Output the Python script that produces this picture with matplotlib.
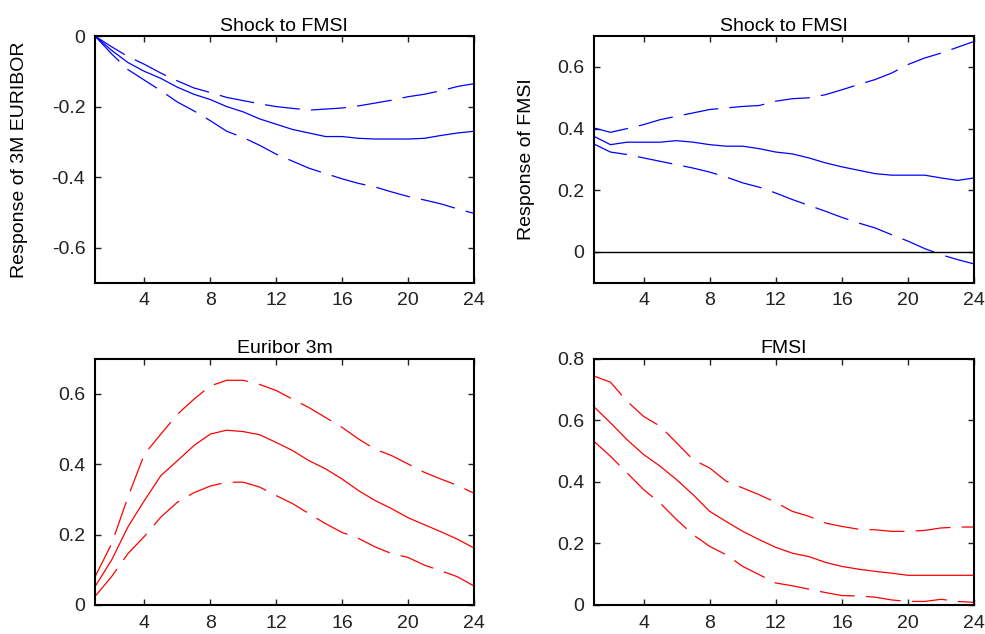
import matplotlib
matplotlib.use("Agg")
import matplotlib.pyplot as plt

plt.rcParams['font.family'] = ['Liberation Sans', 'DejaVu Sans']

h = list(range(1, 25))

# response of 3M EURIBOR to FMSI shock
eur_mid = [0, -0.04, -0.075, -0.10, -0.12, -0.145, -0.165, -0.18, -0.20, -0.215, -0.235, -0.25,
           -0.265, -0.275, -0.285, -0.285, -0.29, -0.292, -0.292, -0.292, -0.29, -0.282, -0.275, -0.27]
eur_up = [0, -0.03, -0.058, -0.08, -0.105, -0.127, -0.147, -0.16, -0.174, -0.183, -0.192, -0.20,
          -0.205, -0.21, -0.207, -0.204, -0.198, -0.19, -0.182, -0.172, -0.165, -0.155, -0.143, -0.135]
eur_lo = [0, -0.05, -0.095, -0.125, -0.155, -0.187, -0.212, -0.24, -0.27, -0.288, -0.31, -0.335,
          -0.355, -0.375, -0.39, -0.405, -0.418, -0.428, -0.442, -0.455, -0.465, -0.476, -0.49, -0.503]

# response of FMSI to FMSI shock
fmsi_mid = [0.375, 0.348, 0.356, 0.356, 0.356, 0.361, 0.356, 0.348, 0.343, 0.343, 0.335, 0.324,
            0.318, 0.305, 0.289, 0.276, 0.265, 0.254, 0.249, 0.249, 0.249, 0.24, 0.232, 0.24]
fmsi_up = [0.402, 0.388, 0.40, 0.413, 0.429, 0.44, 0.451, 0.462, 0.467, 0.472, 0.475, 0.489,
           0.497, 0.50, 0.51, 0.526, 0.543, 0.559, 0.58, 0.608, 0.629, 0.645, 0.664, 0.683]
fmsi_lo = [0.35, 0.324, 0.316, 0.305, 0.294, 0.283, 0.272, 0.259, 0.243, 0.224, 0.21, 0.191,
           0.17, 0.151, 0.132, 0.112, 0.094, 0.078, 0.056, 0.035, 0.011, -0.009, -0.025, -0.039]

# Euribor 3m own response
e3_mid = [0.052, 0.127, 0.222, 0.297, 0.368, 0.41, 0.453, 0.486, 0.497, 0.493, 0.484, 0.462,
          0.439, 0.41, 0.387, 0.358, 0.325, 0.297, 0.274, 0.248, 0.228, 0.208, 0.187, 0.162]
e3_up = [0.08, 0.173, 0.307, 0.429, 0.486, 0.542, 0.585, 0.623, 0.639, 0.639, 0.627, 0.61,
         0.585, 0.561, 0.533, 0.505, 0.472, 0.443, 0.425, 0.401, 0.377, 0.358, 0.34, 0.318]
e3_lo = [0.024, 0.08, 0.146, 0.195, 0.25, 0.292, 0.319, 0.338, 0.349, 0.349, 0.335, 0.311,
         0.288, 0.259, 0.231, 0.206, 0.189, 0.165, 0.146, 0.135, 0.113, 0.097, 0.08, 0.054]

# FMSI own response
f_mid = [0.644, 0.592, 0.537, 0.489, 0.451, 0.407, 0.358, 0.304, 0.271, 0.239, 0.212, 0.187,
         0.168, 0.157, 0.138, 0.125, 0.116, 0.109, 0.103, 0.096, 0.096, 0.096, 0.096, 0.096]
f_up = [0.744, 0.724, 0.662, 0.613, 0.581, 0.527, 0.472, 0.445, 0.402, 0.38, 0.358, 0.333,
        0.304, 0.288, 0.266, 0.255, 0.246, 0.244, 0.239, 0.239, 0.242, 0.25, 0.253, 0.253]
f_lo = [0.532, 0.483, 0.429, 0.375, 0.331, 0.277, 0.228, 0.19, 0.163, 0.125, 0.098, 0.071,
        0.062, 0.051, 0.04, 0.03, 0.029, 0.025, 0.016, 0.011, 0.011, 0.018, 0.011, 0.008]

xticks = [4, 8, 12, 16, 20, 24]

fig = plt.figure(figsize=(9.85, 6.34), dpi=100)

panels = [
    # rect, mid, up, lo, color, ylim, yticks, yticklabels, title, ylabel, ylabel x
    ([0.0965, 0.554, 0.3845, 0.389], eur_mid, eur_up, eur_lo, 'blue', (-0.7, 0),
     [0, -0.2, -0.4, -0.6], ['0', '-0.2', '-0.4', '-0.6'], 'Shock to FMSI',
     'Response of 3M EURIBOR', -0.177),
    ([0.603, 0.554, 0.386, 0.389], fmsi_mid, fmsi_up, fmsi_lo, 'blue', (-0.1, 0.7),
     [0, 0.2, 0.4, 0.6], ['0', '0.2', '0.4', '0.6'], 'Shock to FMSI',
     'Response of FMSI', -0.155),
    ([0.0965, 0.046, 0.3845, 0.388], e3_mid, e3_up, e3_lo, 'red', (0, 0.7),
     [0, 0.2, 0.4, 0.6], ['0', '0.2', '0.4', '0.6'], 'Euribor 3m', None, None),
    ([0.603, 0.046, 0.386, 0.388], f_mid, f_up, f_lo, 'red', (0, 0.8),
     [0, 0.2, 0.4, 0.6, 0.8], ['0', '0.2', '0.4', '0.6', '0.8'], 'FMSI', None, None),
]

for rect, mid, up, lo, col, ylim, yt, ytl, title, ylab, labx in panels:
    ax = fig.add_axes(rect)
    ax.plot(h, mid, color=col, lw=0.9)
    ax.plot(h, up, color=col, lw=0.9, dashes=(28, 9))
    ax.plot(h, lo, color=col, lw=0.9, dashes=(28, 9))
    if ylim[0] < 0 < ylim[1]:
        ax.axhline(0, color='black', lw=1.0)
    ax.set_xlim(1, 24)
    ax.set_ylim(*ylim)
    ax.set_xticks(xticks)
    ax.set_xticklabels([str(t) for t in xticks])
    ax.set_yticks(yt)
    ax.set_yticklabels(ytl)
    ax.tick_params(direction='in', top=True, right=True, length=4, width=1,
                   labelsize=14, colors='#222222', pad=7)
    for s in ax.spines.values():
        s.set_linewidth(1.5)
    ax.set_title(title, fontsize=14, pad=4)
    if ylab:
        ax.set_ylabel(ylab, fontsize=14)
        ax.yaxis.set_label_coords(labx, 0.5)

fig.savefig('out.png', dpi=100)
